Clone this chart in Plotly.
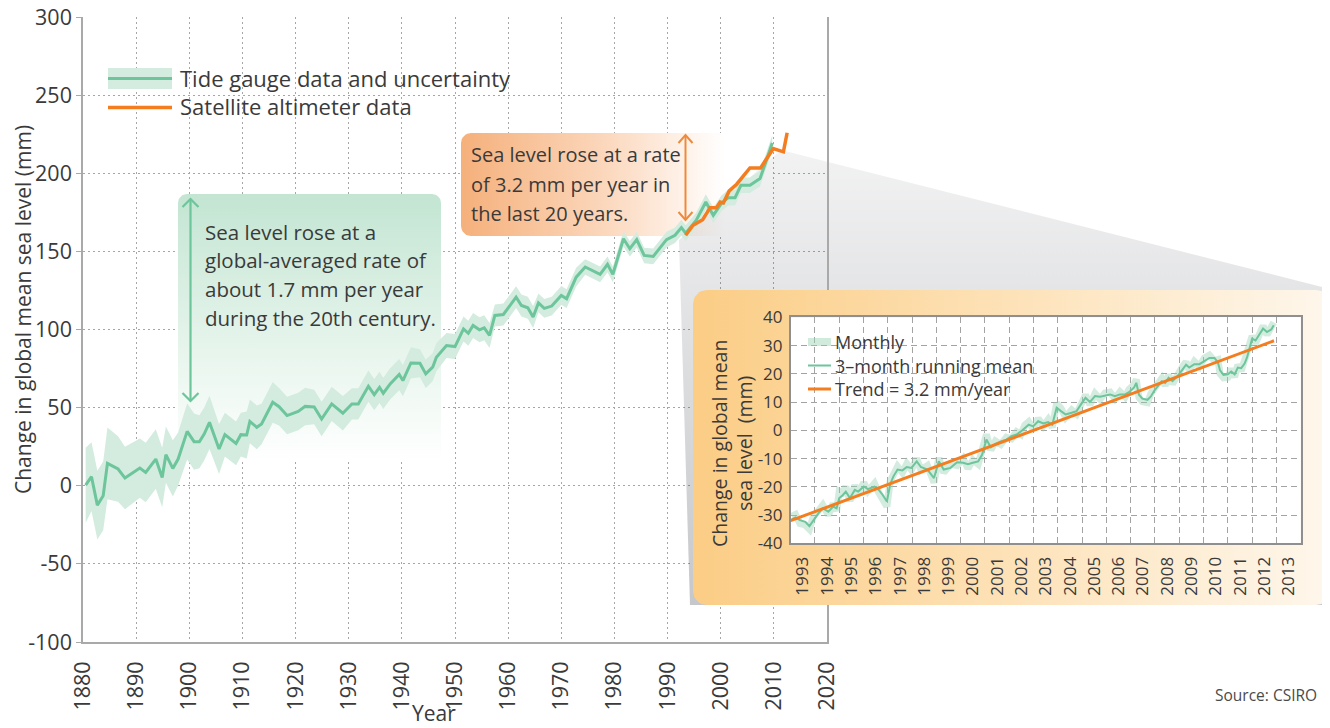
import numpy as np
import plotly.graph_objects as go

# ---------------- data ----------------
tide_year = [1880.5, 1881.6, 1882.7, 1883.8, 1884.6, 1886.6, 1887.9, 1890.7, 1891.8, 1893.7,
             1894.9, 1895.6, 1896.9, 1897.9, 1899.6, 1900.9, 1901.9, 1902.8, 1903.8, 1905.6,
             1906.7, 1908.8, 1909.7, 1910.8, 1911.4, 1912.7, 1913.6, 1915.7, 1916.9, 1918.4,
             1920.5, 1921.8, 1923.5, 1924.9, 1926.8, 1928.9, 1930.6, 1931.8, 1933.7, 1934.8,
             1935.8, 1936.5, 1937.8, 1939.5, 1940.2, 1941.7, 1943.4, 1944.5, 1945.8, 1946.5,
             1948.4, 1950.0, 1951.6, 1952.5, 1953.4, 1954.6, 1955.5, 1956.5, 1957.5, 1959.1,
             1961.5, 1962.5, 1963.7, 1964.7, 1965.7, 1966.8, 1968.2, 1970.0, 1971.0, 1972.8,
             1974.5, 1977.3, 1978.7, 1979.7, 1981.7, 1982.9, 1984.2, 1985.6, 1987.3, 1989.8,
             1991.4, 1992.6, 1993.4, 1995.4, 1997.2, 1998.6, 2000.1, 2001.4, 2002.7, 2003.8,
             2005.5, 2007.4, 2008.6, 2009.7]
tide_mm = [0.4, 5.8, -12.4, -6.4, 14.3, 10.7, 4.9, 11.3, 8.5, 17.1,
           5.3, 19.9, 11.1, 17.1, 34.8, 28.2, 28.2, 33.1, 40.6, 23.5,
           32.7, 27.1, 32.7, 32.5, 41.2, 37.4, 39.5, 53.4, 50.6, 44.9,
           47.6, 50.8, 50.4, 42.7, 52.4, 46.4, 52.4, 52.4, 63.7, 58.3,
           63.0, 59.2, 65.2, 71.2, 67.3, 78.6, 78.4, 71.6, 75.9, 82.3,
           89.7, 89.1, 100.4, 97.6, 102.6, 99.8, 101.1, 96.2, 109.0, 109.6,
           120.7, 115.4, 113.9, 108.0, 117.0, 113.5, 115.0, 121.8, 119.7, 133.5,
           140.0, 135.3, 141.7, 135.3, 158.1, 151.7, 157.5, 147.4, 146.8, 157.5,
           160.3, 165.2, 161.7, 169.9, 181.6, 173.1, 180.6, 184.4, 184.4, 192.3,
           192.3, 196.6, 208.3, 219.4]
tide_unc = [24, 22, 22, 22, 23, 21, 20, 19, 19, 19,
            19, 18, 18, 17, 18, 18, 17, 17, 17, 16,
            14, 14, 14, 15, 14, 14, 13, 13, 12, 12,
            12, 12, 11, 11, 11, 11, 10, 10, 10, 10,
            10, 10, 10, 10, 10, 10, 9, 9, 9, 9,
            8, 8, 8, 8, 8, 8, 8, 8, 7, 7,
            7, 7, 7, 7, 6, 6, 6, 6, 6, 6,
            5, 5, 5, 5, 5, 5, 5, 5, 5, 5,
            5, 5, 5, 5, 5, 5, 5, 5, 5, 5,
            5, 5, 5, 5]

sat_year = [1993.4, 1994.8, 1996.6, 1998.0, 1999.2, 1999.9, 2000.5, 2001.6, 2003.0,
            2005.5, 2007.5, 2008.9, 2009.9, 2011.8, 2012.5]
sat_mm = [160.3, 166.7, 170.3, 178.0, 178.0, 181.6, 181.0, 188.7, 193.0,
          203.4, 203.4, 210.5, 215.8, 213.7, 225.9]

inset_t = [1993.04, 1993.2, 1993.38, 1993.6, 1993.77, 1993.93,
           1994.14, 1994.32, 1994.55, 1994.75, 1994.89,
           1995.0, 1995.14, 1995.27, 1995.44, 1995.64, 1995.78,
           1996.01, 1996.18, 1996.45, 1996.62, 1996.79, 1996.96,
           1997.1, 1997.23, 1997.4, 1997.6, 1997.78, 1997.97,
           1998.19, 1998.36, 1998.63, 1998.9,
           1999.1, 1999.3, 1999.58, 1999.85,
           2000.1, 2000.3, 2000.5, 2000.72, 2000.88,
           2001.06, 2001.24, 2001.43, 2001.65, 2001.88,
           2002.09, 2002.3, 2002.48, 2002.64, 2002.8, 2002.98,
           2003.19, 2003.4, 2003.6, 2003.77, 2003.95,
           2004.13, 2004.32, 2004.57, 2004.77,
           2005.0, 2005.14, 2005.32, 2005.53, 2005.74, 2005.94,
           2006.15, 2006.35, 2006.56, 2006.77, 2006.93,
           2007.14, 2007.23, 2007.34, 2007.48, 2007.69, 2007.83, 2007.97,
           2008.14, 2008.28, 2008.42, 2008.56, 2008.72, 2008.93,
           2009.14, 2009.28, 2009.41, 2009.62, 2009.83,
           2010.03, 2010.24, 2010.45, 2010.59, 2010.68, 2010.82,
           2011.0, 2011.14, 2011.28, 2011.41, 2011.55, 2011.69, 2011.79, 2011.9,
           2012.0, 2012.14, 2012.31, 2012.45, 2012.61, 2012.79, 2012.89]
inset_mean = [-31.5, -30.8, -31.8, -32.4, -33.9, -31.8,
              -29.4, -27.6, -28.8, -27.0, -27.6,
              -24.0, -23.0, -21.7, -24.0, -21.1, -21.7,
              -19.9, -20.8, -19.9, -21.0, -22.9, -25.2,
              -19.0, -16.3, -13.9, -14.2, -13.0, -13.3,
              -11.0, -13.0, -13.9, -16.9,
              -11.0, -13.9, -13.3, -11.3,
              -11.5, -12.0, -11.5, -11.0, -8.7,
              -3.3, -6.0, -4.8, -3.9, -3.3,
              -2.1, -1.5, -0.4, 0.8, 2.0, 1.4,
              3.2, 2.4, 2.9, 2.0, 8.0,
              6.8, 5.6, 6.2, 6.8,
              9.8, 11.5, 10.0, 12.1, 11.9, 12.4,
              12.7, 12.1, 12.7, 12.7, 13.5,
              15.2, 16.8, 12.6, 11.2, 10.8, 12.0, 14.0,
              16.0, 17.4, 16.8, 18.6, 17.4, 19.2,
              21.6, 23.2, 22.2, 23.4, 23.4,
              24.6, 25.6, 25.6, 24.0, 21.2, 19.6,
              19.8, 20.8, 19.8, 22.2, 22.0, 23.6, 25.8, 29.4,
              32.4, 31.8, 34.0, 36.0, 34.8, 35.7, 37.2]
inset_monthly = [-30.5, -29.8, -33.0, -33.5, -35.0, -30.5,
                 -28.5, -26.5, -30.0, -26.0, -28.5,
                 -21.5, -22.0, -20.0, -25.0, -19.5, -22.5,
                 -18.5, -21.5, -18.8, -22.0, -24.0, -27.0,
                 -18.0, -15.0, -12.8, -15.0, -11.8, -14.0,
                 -10.0, -14.0, -12.5, -18.5,
                 -9.8, -15.0, -12.0, -12.5,
                 -10.0, -13.5, -10.5, -12.0, -7.0,
                 -1.5, -7.0, -3.8, -5.0, -2.5,
                 -3.0, -0.5, -1.5, 1.8, 3.0, 0.5,
                 4.2, 1.5, 3.8, 1.0, 9.5,
                 7.8, 4.6, 7.2, 5.8,
                 11.0, 12.5, 9.0, 13.0, 11.0, 13.2,
                 13.5, 11.2, 13.6, 11.8, 14.5,
                 16.2, 18.0, 11.6, 10.2, 9.8, 13.0, 15.0,
                 17.0, 18.4, 15.8, 19.6, 16.4, 20.2,
                 22.6, 24.2, 21.2, 24.4, 22.6,
                 25.6, 26.6, 24.6, 25.0, 20.0, 18.6,
                 18.8, 21.8, 18.8, 23.2, 21.0, 24.6, 27.0, 30.4,
                 33.4, 30.8, 35.2, 37.0, 33.8, 36.8, 38.2]
trend_t = [1993.0, 2012.9]
trend_mm = [-32.0, 31.7]

main_xticks = list(range(1880, 2021, 10))
main_yticks = list(range(-100, 301, 50))
inset_years = list(range(1993, 2014))
inset_yticks = list(range(-40, 41, 10))

# ---------------- styling / geometry ----------------
OFF = 8                      # page body margin: figure origin sits at (8, 8) on screen
W, H = 1330 - OFF, 728 - OFF  # figure size so that it exactly fills the window
FONT = "Open Sans"
TXT = "#3a3a3a"
GREEN = "#6cc59b"
BAND = "#d3ecdf"
ORANGE = "#f47d20"
GRID = "#a6a6a6"

# all geometry below is given in screen pixels of the 1330x728 window
M_L, M_R, M_T, M_B = 83, 827, 17, 642          # main plot area
I_L, I_R, I_T, I_B = 790.7, 1300.7, 317.3, 543.3  # inset plot area


def sx(px):
    return px - OFF


def sy(py):
    return H - (py - OFF)


def fx(px):
    return (px - OFF) / W


def fy(py):
    return 1 - (py - OFF) / H


def px2yr(px):
    return 1880 + (px - M_L) * 140 / (M_R - M_L)


def py2mm(py):
    return 300 - (py - M_T) * 400 / (M_B - M_T)


def rrect(x0, y0, x1, y1, r, corners=(True, True, True, True)):
    pts = []

    def arc(cx, cy, a0, a1):
        for a in np.linspace(a0, a1, 9):
            pts.append((cx + r * np.cos(a), cy + r * np.sin(a)))
    tl, tr, br, bl = corners
    if tl:
        arc(x0 + r, y0 + r, np.pi, 1.5 * np.pi)
    else:
        pts.append((x0, y0))
    if tr:
        arc(x1 - r, y0 + r, 1.5 * np.pi, 2 * np.pi)
    else:
        pts.append((x1, y0))
    if br:
        arc(x1 - r, y1 - r, 0, 0.5 * np.pi)
    else:
        pts.append((x1, y1))
    if bl:
        arc(x0 + r, y1 - r, 0.5 * np.pi, np.pi)
    else:
        pts.append((x0, y1))
    pts.append(pts[0])
    return [p[0] for p in pts], [p[1] for p in pts]


fig = go.Figure()
NOLINE = dict(width=0, color="rgba(0,0,0,0)")

# ---- zoom wedge (gray) ----
wedge = [(679, 240), (781, 150), (1330, 289), (1330, 605), (690, 605), (679, 240)]
wedge_cs = [[0, "rgba(70,74,84,0.31)"], [1, "rgba(70,74,84,0.07)"]]
fig.add_trace(go.Scatter(
    x=[sx(p[0]) for p in wedge], y=[sy(p[1]) for p in wedge], xaxis="x", yaxis="y",
    fill="toself", mode="lines", line=NOLINE, hoverinfo="skip", showlegend=False,
    fillgradient=dict(type="vertical", colorscale=wedge_cs, start=sy(605), stop=sy(150))))

# ---- main chart: annotation boxes ----
gx, gy = rrect(178, 194, 441, 462, 9, (True, True, False, False))
fig.add_trace(go.Scatter(
    x=[px2yr(v) for v in gx], y=[py2mm(v) for v in gy], xaxis="x2", yaxis="y2",
    fill="toself", mode="lines", line=NOLINE, hoverinfo="skip", showlegend=False,
    fillgradient=dict(type="vertical",
                      colorscale=[[0, "#ffffff"], [0.3, "#eef8f2"], [1, "#c3e5d2"]],
                      start=py2mm(462), stop=py2mm(194))))
ox, oy = rrect(461, 133, 772, 236, 10, (True, False, False, True))
fig.add_trace(go.Scatter(
    x=[px2yr(v) for v in ox], y=[py2mm(v) for v in oy], xaxis="x2", yaxis="y2",
    fill="toself", mode="lines", line=NOLINE, hoverinfo="skip", showlegend=False,
    fillgradient=dict(type="horizontal",
                      colorscale=[[0, "#f5b07b"], [0.45, "#fbd6ba"], [0.7, "#fef0e6"],
                                  [0.85, "#ffffff"], [1, "#ffffff"]],
                      start=px2yr(461), stop=px2yr(772))))
fig.add_trace(go.Scatter(
    x=[px2yr(p[0]) for p in wedge], y=[py2mm(p[1]) for p in wedge], xaxis="x2", yaxis="y2",
    fill="toself", mode="lines", line=NOLINE, hoverinfo="skip", showlegend=False,
    fillgradient=dict(type="vertical", colorscale=wedge_cs,
                      start=py2mm(605), stop=py2mm(150))))

# ---- main chart: data ----
upper = [v + u for v, u in zip(tide_mm, tide_unc)]
lower = [v - u for v, u in zip(tide_mm, tide_unc)]
fig.add_trace(go.Scatter(
    x=tide_year + tide_year[::-1], y=upper + lower[::-1], xaxis="x2", yaxis="y2",
    fill="toself", fillcolor=BAND, mode="lines", line=NOLINE,
    name="Tide gauge uncertainty", showlegend=False, hoverinfo="skip"))
fig.add_trace(go.Scatter(
    x=tide_year, y=tide_mm, xaxis="x2", yaxis="y2", mode="lines",
    line=dict(color=GREEN, width=3), name="Tide gauge data and uncertainty", showlegend=False))
fig.add_trace(go.Scatter(
    x=sat_year, y=sat_mm, xaxis="x2", yaxis="y2", mode="lines",
    line=dict(color=ORANGE, width=3.5), name="Satellite altimeter data", showlegend=False))

# ---- inset panel background ----
bx, by = rrect(693, 290, 1330, 605, 14)
fig.add_trace(go.Scatter(
    x=[sx(v) for v in bx], y=[sy(v) for v in by], xaxis="x3", yaxis="y3",
    fill="toself", mode="lines", line=NOLINE, hoverinfo="skip", showlegend=False,
    fillgradient=dict(type="horizontal",
                      colorscale=[[0, "#fbcd85"], [0.5, "#fde2b8"], [1, "#fef7ec"]],
                      start=sx(693), stop=sx(1330))))
fig.add_trace(go.Scatter(
    x=[sx(v) for v in [I_L, I_R, I_R, I_L, I_L]],
    y=[sy(v) for v in [I_T, I_T, I_B, I_B, I_T]],
    xaxis="x3", yaxis="y3", fill="toself", fillcolor="#ffffff", mode="lines",
    line=NOLINE, hoverinfo="skip", showlegend=False))

# ---- inset data ----
fig.add_trace(go.Scatter(
    x=inset_t, y=inset_monthly, xaxis="x4", yaxis="y4", mode="lines",
    line=dict(color="rgba(150,210,178,0.42)", width=7), name="Monthly", showlegend=False))
fig.add_trace(go.Scatter(
    x=inset_t, y=inset_mean, xaxis="x4", yaxis="y4", mode="lines",
    line=dict(color=GREEN, width=2), name="3\u2013month running mean", showlegend=False))
fig.add_trace(go.Scatter(
    x=trend_t, y=trend_mm, xaxis="x4", yaxis="y4", mode="lines",
    line=dict(color=ORANGE, width=3), name="Trend = 3.2 mm/year", showlegend=False))

# ---------------- axes ----------------
hidden = dict(visible=False, fixedrange=True, showgrid=False, zeroline=False, automargin=False)
tickfont_main = dict(family=FONT, size=21.5, color=TXT)
tickfont_inset = dict(family=FONT, size=17, color=TXT)

fig.update_layout(
    xaxis=dict(hidden, domain=[fx(M_R), 1], range=[sx(M_R), W], anchor="y"),
    yaxis=dict(hidden, domain=[0, 1], range=[0, H], anchor="x"),
    xaxis3=dict(hidden, domain=[0, 1], range=[0, W], anchor="y3"),
    yaxis3=dict(hidden, domain=[0, 1], range=[0, H], anchor="x3"),
    xaxis2=dict(
        domain=[fx(M_L), fx(M_R)], range=[1880, 2020], anchor="y2", fixedrange=True,
        automargin=False, ticklabeloverflow="allow",
        tickmode="array", tickvals=main_xticks, ticktext=[str(v) for v in main_xticks],
        tickangle=-90, tickfont=tickfont_main,
        showgrid=True, gridcolor=GRID, griddash="2px,3px", gridwidth=1,
        showline=True, linecolor="#a9a9a9", linewidth=1.5, mirror=False,
        ticks="outside", ticklen=9, tickcolor="rgba(0,0,0,0)", zeroline=False),
    yaxis2=dict(
        domain=[fy(M_B), fy(M_T)], range=[-100, 300], anchor="x2", fixedrange=True,
        automargin=False, ticklabeloverflow="allow",
        tickmode="array", tickvals=main_yticks, ticktext=[str(v) for v in main_yticks],
        tickfont=tickfont_main, showgrid=False,
        minor=dict(tickmode="array", tickvals=[v + 0.001 for v in main_yticks[1:-1]],
                   showgrid=True, gridcolor=GRID, griddash="2px,3px", gridwidth=1, ticks=""),
        showline=True, linecolor="#a9a9a9", linewidth=1.5, mirror=True,
        ticks="outside", ticklen=5, tickcolor="#a9a9a9", zeroline=False),
    xaxis4=dict(
        domain=[fx(I_L), fx(I_R)], range=[1993, 2014], anchor="y4", fixedrange=True,
        automargin=False,
        tickmode="array", tickvals=[y + 0.5 for y in inset_years],
        ticktext=[str(y) for y in inset_years], tickangle=-90, tickfont=tickfont_inset,
        showgrid=False,
        minor=dict(tickmode="array", tickvals=inset_years[1:], showgrid=True,
                   gridcolor="#a3a3a3", griddash="6px,4px", gridwidth=1.2, ticks=""),
        showline=True, linecolor="#8f8f8f", linewidth=1.5, mirror=True,
        ticks="outside", ticklen=5, tickcolor="rgba(0,0,0,0)", zeroline=False),
    yaxis4=dict(
        domain=[fy(I_B), fy(I_T)], range=[-40, 40], anchor="x4", fixedrange=True,
        automargin=False,
        tickmode="array", tickvals=inset_yticks, ticktext=[str(v) for v in inset_yticks],
        tickfont=tickfont_inset, showgrid=True, gridcolor="#a3a3a3", griddash="6px,4px",
        gridwidth=1.2, showline=True, linecolor="#8f8f8f", linewidth=1.5, mirror=True,
        ticks="outside", ticklen=3, tickcolor="rgba(0,0,0,0)", zeroline=False),
)

# ---------------- texts ----------------
annotations = []


def text(x, y, s, size, color=TXT, xanchor="left", angle=0):
    annotations.append(dict(x=fx(x), y=fy(y), xref="paper", yref="paper", text=s,
                            showarrow=False, xanchor=xanchor, yanchor="middle",
                            textangle=angle, borderpad=0,
                            font=dict(family=FONT, size=size, color=color)))


for s, yy in zip(["Sea level rose at a", "global-averaged rate of",
                  "about 1.7 mm per year", "during the 20th century."],
                 [232, 260, 289, 318]):
    text(204, yy, s, 20.5)
for s, yy in zip(["Sea level rose at a rate", "of 3.2 mm per year in",
                  "the last 20 years."], [155, 184, 213]):
    text(470, yy, s, 20)

text(179, 78, "Tide gauge data and uncertainty", 22)
text(179, 106, "Satellite altimeter data", 22)
text(834, 342, "Monthly", 18)
text(834, 365.5, "3\u2013month running mean", 18)
text(834, 389, "Trend = 3.2 mm/year", 18)

text(434, 713, "Year", 21, xanchor="center")
text(23, 310, "Change in global mean sea level (mm)", 21, xanchor="center", angle=-90)
text(732, 444, "Change in global mean<br>sea level  (mm)", 19.5, xanchor="center", angle=-90)
text(1318, 695, "Source: CSIRO", 15.5, color="#4a4a4a", xanchor="right")

# ---------------- legend symbols and arrows ----------------
shapes = []


def seg(x0, y0, x1, y1, color, width):
    shapes.append(dict(type="line", xref="paper", yref="paper", x0=fx(x0), y0=fy(y0),
                       x1=fx(x1), y1=fy(y1), line=dict(color=color, width=width)))


def path(pts, color, width):
    d = "M" + "L".join(f"{fx(x):.5f},{fy(y):.5f}" for x, y in pts)
    shapes.append(dict(type="path", xref="paper", yref="paper", path=d,
                       line=dict(color=color, width=width)))


def double_arrow(x, top, bottom, color, width, a, b):
    seg(x, top + 1, x, bottom - 1, color, width)
    path([(x - a, top + b), (x, top), (x + a, top + b)], color, width)
    path([(x - a, bottom - b), (x, bottom), (x + a, bottom - b)], color, width)


shapes.append(dict(type="rect", xref="paper", yref="paper", x0=fx(108), x1=fx(172),
                   y0=fy(89), y1=fy(68), fillcolor=BAND, line=dict(width=0)))
seg(108, 78.5, 172, 78.5, GREEN, 3)
seg(108, 107.5, 172, 107.5, ORANGE, 3.5)
seg(808, 342, 831, 342, "rgba(150,210,178,0.45)", 8)
seg(808, 365.5, 831, 365.5, GREEN, 2)
seg(808, 389, 831, 389, ORANGE, 3)

double_arrow(190.5, 199, 401, GREEN, 2.2, 8, 8)
double_arrow(685.5, 135, 220, "#f08a3a", 2, 7, 8)

fig.update_layout(
    width=W, height=H, autosize=False,
    margin=dict(l=0, r=0, t=0, b=0, pad=0),
    paper_bgcolor="#ffffff", plot_bgcolor="rgba(0,0,0,0)",
    showlegend=False, hovermode=False,
    font=dict(family=FONT, color=TXT),
    annotations=annotations, shapes=shapes,
)

fig.write_html("out.html")
